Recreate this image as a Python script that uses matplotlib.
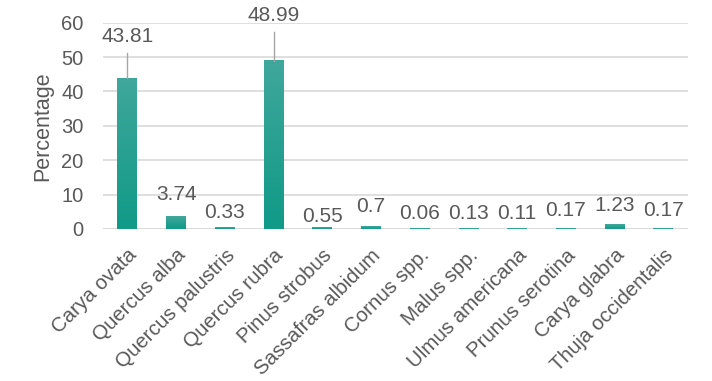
import numpy as np
import matplotlib.pyplot as plt
from matplotlib.colors import LinearSegmentedColormap

species = ['Carya ovata', 'Quercus alba', 'Quercus palustris', 'Quercus rubra',
           'Pinus strobus', 'Sassafras albidum', 'Cornus spp.', 'Malus spp.',
           'Ulmus americana', 'Prunus serotina', 'Carya glabra', 'Thuja occidentalis']
percent = [43.81, 3.74, 0.33, 48.99, 0.55, 0.7, 0.06, 0.13, 0.11, 0.17, 1.23, 0.17]
# where each value label sits (y, in data units); two of them have leader lines
label_y = [56.0, 9.9, 4.7, 62.1, 3.5, 6.4, 4.6, 4.6, 4.4, 5.3, 6.7, 5.4]
leader = [True, False, False, True, False, False, False, False, False, False, False, False]

plt.rcParams['font.family'] = ['Liberation Sans', 'DejaVu Sans']
txt = '#595959'
grid = '#d9d9d9'

fig = plt.figure(figsize=(7.12, 3.81), dpi=100)
ax = fig.add_axes([0.1447, 0.399, 0.8213, 0.5414])

x = np.arange(len(species))
w = 0.41
bars = ax.bar(x, percent, width=w, color='none', zorder=2)

# vertical teal gradient inside each bar
cmap = LinearSegmentedColormap.from_list('teal', ['#109a87', '#40a79c'])
grad = np.linspace(0, 1, 256).reshape(-1, 1)
for b in bars:
    x0, y0 = b.get_x(), b.get_y()
    ax.imshow(grad, cmap=cmap, origin='lower', aspect='auto', zorder=2,
              extent=[x0, x0 + b.get_width(), y0, y0 + b.get_height()])

for i, v in enumerate(percent):
    ax.text(x[i], label_y[i], f'{v:g}', ha='center', va='center',
            fontsize=15, color=txt, clip_on=False)
    if leader[i]:
        ax.plot([x[i], x[i]], [v, label_y[i] - 4.7], color='#a6a6a6', lw=1,
                zorder=3, clip_on=False)

ax.set_xlim(-0.5, len(species) - 0.5)
ax.set_ylim(0, 60)
ax.set_yticks(range(0, 61, 10))
ax.yaxis.grid(True, color=grid, lw=1.2)
ax.set_axisbelow(True)
for s in ax.spines.values():
    s.set_visible(False)
ax.axhline(0, color=grid, lw=1.2, zorder=1)

ax.set_xticks(x)
ax.set_xticklabels(species, rotation=45, ha='right', rotation_mode='anchor',
                   fontsize=14.8)
ax.tick_params(axis='both', length=0, labelcolor=txt)
ax.tick_params(axis='y', pad=14, labelsize=14.5)
ax.tick_params(axis='x', pad=12)
ax.set_ylabel('Percentage', fontsize=15.5, color=txt, labelpad=6)

fig.savefig('out.png', dpi=100)
